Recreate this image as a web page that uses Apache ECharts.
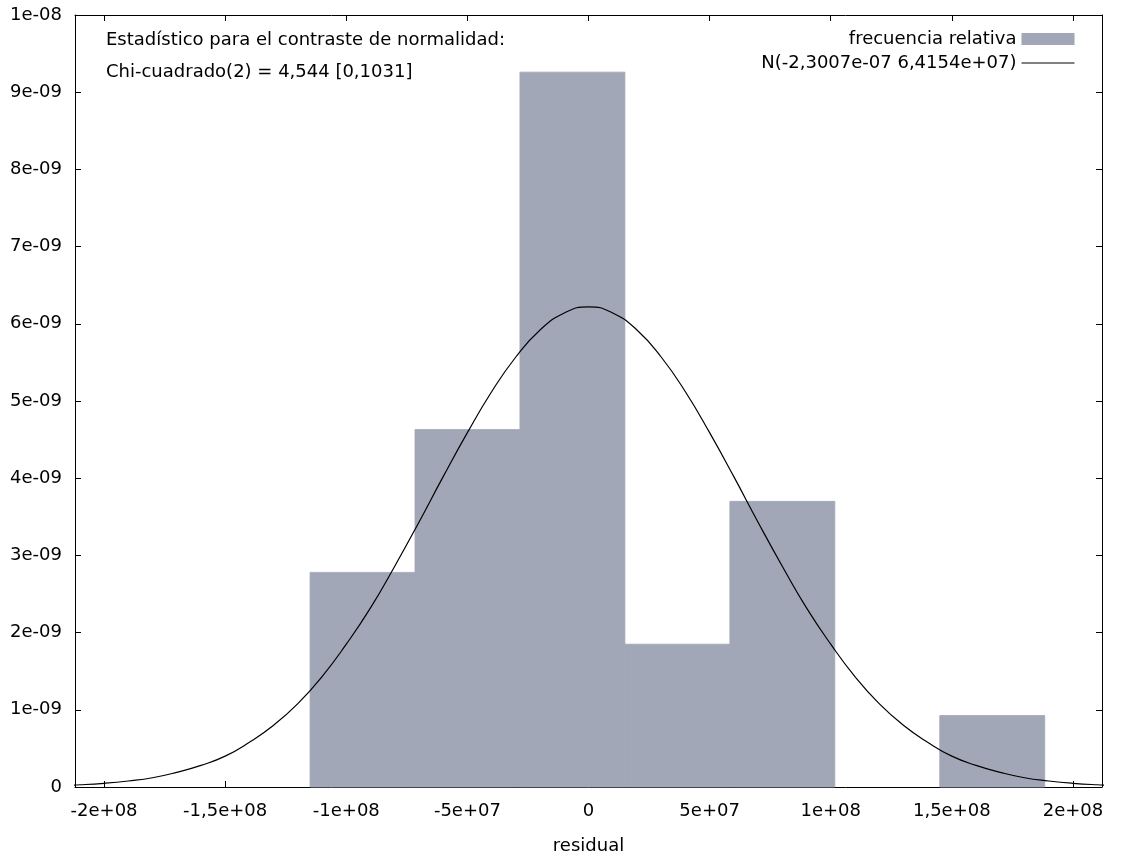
<!DOCTYPE html>
<html>
<head>
<meta charset="utf-8">
<script src="https://cdn.jsdelivr.net/npm/echarts@6/dist/echarts.min.js"></script>
<style>
  html, body { margin: 0; padding: 0; background: #fff; }
  #chart { width: 1124px; height: 865px; }
</style>
</head>
<body>
<div id="chart"></div>
<script>
// histogram bins (residual) and relative frequency
const binLo = [-1.1496e8, -0.7163e8, -0.2830e8, 0.1503e8, 0.5836e8, 1.0169e8, 1.4502e8]
const binHi = [-0.7163e8, -0.2830e8, 0.1503e8, 0.5836e8, 1.0169e8, 1.4502e8, 1.8835e8]
const binH = [2.78e-9, 4.63e-9, 9.26e-9, 1.85e-9, 3.70e-9, 0, 0.926e-9]

// normal curve (y in units of 1e-9)
const curveX = [-2.2e8, -2.1e8, -2.0e8, -1.9e8, -1.8e8, -1.7e8, -1.6e8, -1.5e8, -1.4e8, -1.3e8, -1.2e8,
	-1.1e8, -1.0e8, -0.9e8, -0.8e8, -0.7e8, -0.6e8, -0.5e8, -0.4e8, -0.3e8, -0.2e8, -0.1e8, 0,
	0.1e8, 0.2e8, 0.3e8, 0.4e8, 0.5e8, 0.6e8, 0.7e8, 0.8e8, 0.9e8, 1.0e8, 1.1e8,
	1.2e8, 1.3e8, 1.4e8, 1.5e8, 1.6e8, 1.7e8, 1.8e8, 1.9e8, 2.0e8, 2.1e8, 2.2e8]
const curveY = [0.017, 0.029, 0.048, 0.078, 0.12, 0.19, 0.28, 0.40, 0.58, 0.80, 1.08,
	1.43, 1.85, 2.32, 2.86, 3.43, 4.02, 4.59, 5.12, 5.57, 5.92, 6.14, 6.22,
	6.14, 5.92, 5.57, 5.12, 4.59, 4.02, 3.43, 2.86, 2.32, 1.85, 1.43,
	1.08, 0.80, 0.58, 0.40, 0.28, 0.19, 0.12, 0.078, 0.048, 0.029, 0.017]

const xTicks = [-2e8, -1.5e8, -1e8, -5e7, 0, 5e7, 1e8, 1.5e8, 2e8]
const xTickLabels = ['-2e+08', '-1,5e+08', '-1e+08', '-5e+07', '0', '5e+07', '1e+08', '1,5e+08', '2e+08']
const yTickLabels = ['0', '1e-09', '2e-09', '3e-09', '4e-09', '5e-09', '6e-09', '7e-09', '8e-09', '9e-09', '1e-08']

const FONT = 'DejaVu Sans'
const FS = 18
const BAR_COLOR = '#a1a7b6'

const chartDom = echarts.init(document.getElementById('chart'))

const tickStyle = { inside: true, length: 6, lineStyle: { color: '#000', width: 1 } }
const lineStyle = { show: true, onZero: false, lineStyle: { color: '#000', width: 1 } }

const option = {
	backgroundColor: '#fff',
	animation: false,
	grid: { left: 75, right: 22, top: 15, bottom: 78 },
	legend: {
		orient: 'vertical',
		right: 44,
		top: 25,
		align: 'right',
		itemWidth: 53,
		itemHeight: 12,
		itemGap: 6,
		textStyle: { fontFamily: FONT, fontSize: FS, color: '#000' },
		data: [
			{ name: 'frecuencia relativa', icon: 'rect' },
			{ name: 'N(-2,3007e-07 6,4154e+07)', itemStyle: { opacity: 0 }, lineStyle: { width: 1 } }
		]
	},
	graphic: [
		{ type: 'text', left: 106, top: 31, style: { text: 'Estadístico para el contraste de normalidad:', fontFamily: FONT, fontSize: FS, fill: '#000' } },
		{ type: 'text', left: 106, top: 63, style: { text: 'Chi-cuadrado(2) = 4,544 [0,1031]', fontFamily: FONT, fontSize: FS, fill: '#000' } }
	],
	xAxis: [
		{
			type: 'value',
			min: -2.12e8,
			max: 2.12e8,
			name: 'residual',
			nameLocation: 'middle',
			nameGap: 50,
			nameTextStyle: { fontFamily: FONT, fontSize: FS, color: '#000' },
			axisLine: lineStyle,
			axisTick: Object.assign({ customValues: xTicks }, tickStyle),
			axisLabel: {
				customValues: xTicks,
				margin: 15,
				fontFamily: FONT,
				fontSize: FS,
				color: '#000',
				formatter: function (v) {
					const i = xTicks.findIndex(t => Math.abs(t - v) < 1)
					return i >= 0 ? xTickLabels[i] : ''
				}
			},
			splitLine: { show: false }
		},
		{
			type: 'value',
			position: 'top',
			min: -2.12e8,
			max: 2.12e8,
			axisLine: lineStyle,
			axisTick: Object.assign({ customValues: xTicks }, tickStyle),
			axisLabel: { show: false },
			splitLine: { show: false }
		}
	],
	yAxis: [
		{
			type: 'value',
			min: 0,
			max: 1e-8,
			interval: 1e-9,
			axisLine: lineStyle,
			axisTick: tickStyle,
			axisLabel: {
				margin: 13,
				fontFamily: FONT,
				fontSize: FS,
				color: '#000',
				formatter: function (v) {
					return yTickLabels[Math.round(v / 1e-9)] || ''
				}
			},
			splitLine: { show: false }
		},
		{
			type: 'value',
			position: 'right',
			min: 0,
			max: 1e-8,
			interval: 1e-9,
			axisLine: lineStyle,
			axisTick: tickStyle,
			axisLabel: { show: false },
			splitLine: { show: false }
		}
	],
	series: [
		{
			name: 'frecuencia relativa',
			type: 'custom',
			itemStyle: { color: BAR_COLOR },
			renderItem: function (params, api) {
				if (!(api.value(2) > 0)) return null
				const p0 = api.coord([api.value(0), 0])
				const p1 = api.coord([api.value(1), api.value(2)])
				return {
					type: 'rect',
					shape: { x: p0[0], y: p1[1], width: p1[0] - p0[0], height: p0[1] - p1[1] },
					style: { fill: BAR_COLOR, stroke: BAR_COLOR, lineWidth: 0.8 }
				}
			},
			encode: { x: [0, 1], y: 2 },
			data: binLo.map((lo, i) => [lo, binHi[i], binH[i]]),
			z: 1
		},
		{
			name: 'N(-2,3007e-07 6,4154e+07)',
			type: 'line',
			smooth: true,
			symbol: 'none',
			showSymbol: false,
			clip: true,
			lineStyle: { color: '#000', width: 1.2 },
			itemStyle: { color: '#000' },
			data: curveX.map((x, i) => [x, curveY[i] * 1e-9]),
			z: 3
		}
	]
}

chartDom.setOption(option, true)
</script>
</body>
</html>
